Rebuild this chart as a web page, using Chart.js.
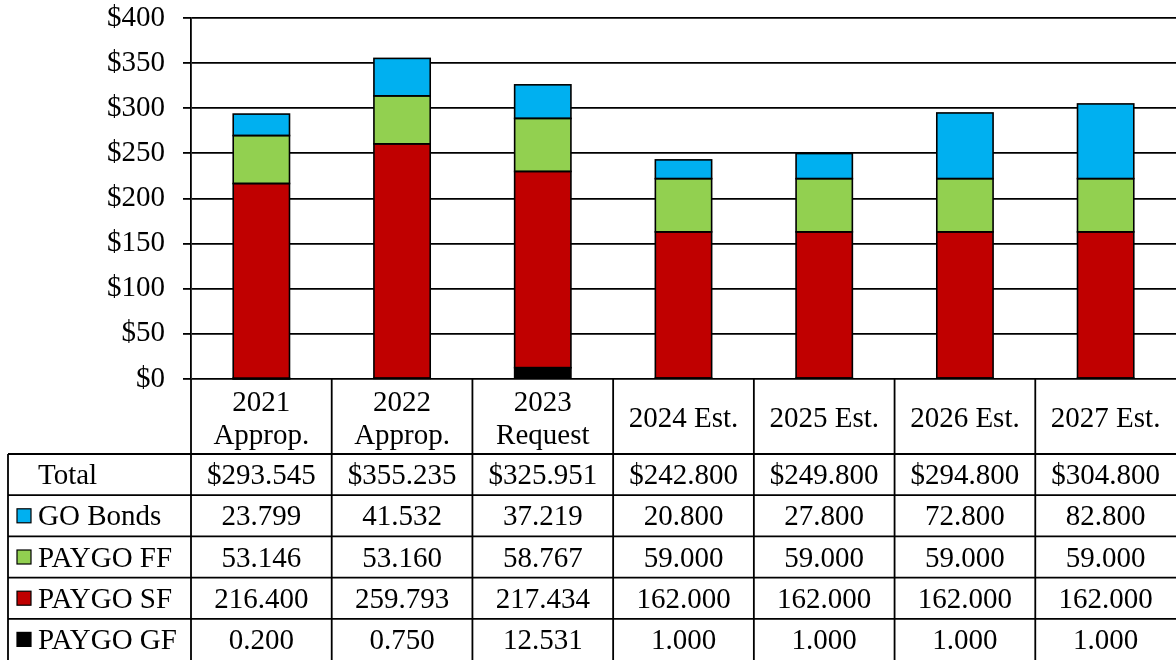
<!DOCTYPE html>
<html>
<head>
<meta charset="utf-8">
<script src="https://cdn.jsdelivr.net/npm/chart.js@4"></script>
<style>
  body { margin: 0; background: #fff; }
  #wrap { width: 1176px; height: 660px; }
</style>
</head>
<body>
<div id="wrap"><canvas id="myChart" width="1176" height="660"></canvas></div>
<script>
const categories = [["2021", "Approp."], ["2022", "Approp."], ["2023", "Request"], "2024 Est.", "2025 Est.", "2026 Est.", "2027 Est."];
const totals = [293.545, 355.235, 325.951, 242.8, 249.8, 294.8, 304.8];
const goBonds = [23.799, 41.532, 37.219, 20.8, 27.8, 72.8, 82.8];
const paygoFF = [53.146, 53.16, 58.767, 59, 59, 59, 59];
const paygoSF = [216.4, 259.793, 217.434, 162, 162, 162, 162];
const paygoGF = [0.2, 0.75, 12.531, 1, 1, 1, 1];
const yTicks = [0, 50, 100, 150, 200, 250, 300, 350, 400];

const FONT = '"Liberation Serif", "Times New Roman", serif';
const FONT_SIZE = 29;

// rows of the data table, top to bottom
const tableRows = [
  { label: "Total", color: null, values: totals, money: true },
  { label: "GO Bonds", color: "#00B0F0", values: goBonds },
  { label: "PAYGO FF", color: "#92D050", values: paygoFF },
  { label: "PAYGO SF", color: "#C00000", values: paygoSF },
  { label: "PAYGO GF", color: "#000000", values: paygoGF },
];

const makeSet = (label, data, color) => ({
  label,
  data,
  backgroundColor: color,
  borderWidth: 0,
  barPercentage: 0.4,
  categoryPercentage: 1,
});

// centered outline round every bar segment (Chart.js insets its borders)
const outlinePlugin = {
  id: "barOutline",
  afterDatasetsDraw(chart) {
    const { ctx } = chart;
    ctx.save();
    ctx.strokeStyle = "#000";
    ctx.lineWidth = 1.6;
    chart.data.datasets.forEach((ds, di) => {
      chart.getDatasetMeta(di).data.forEach((bar) => {
        const { x, y, base, width } = bar.getProps(["x", "y", "base", "width"], true);
        ctx.strokeRect(x - width / 2, Math.min(y, base), width, Math.abs(base - y));
      });
    });
    ctx.restore();
  },
};

const tablePlugin = {
  id: "dataTable",
  afterDraw(chart) {
    const { ctx, chartArea, scales: { x } } = chart;
    const step = x.getPixelForValue(1) - x.getPixelForValue(0);
    const top = chartArea.bottom;
    const headH = 75;
    const rowsTop = top + headH;
    const rowH = (chart.height - rowsTop) / tableRows.length;
    const tableLeft = 8;
    const right = chart.width;

    ctx.save();
    ctx.strokeStyle = "#000";
    ctx.lineWidth = 1.8;
    ctx.fillStyle = "#000";
    ctx.font = `${FONT_SIZE}px ${FONT}`;
    ctx.textBaseline = "middle";

    // column separators
    ctx.beginPath();
    for (let i = 0; i < categories.length; i++) {
      const xl = x.getPixelForValue(i) - step / 2;
      ctx.moveTo(xl, top);
      ctx.lineTo(xl, chart.height);
    }
    ctx.moveTo(tableLeft, rowsTop);
    ctx.lineTo(tableLeft, chart.height);
    for (let r = 0; r < tableRows.length; r++) {
      const yy = rowsTop + r * rowH;
      ctx.moveTo(tableLeft, yy);
      ctx.lineTo(right, yy);
    }
    ctx.stroke();

    // header labels
    ctx.textAlign = "center";
    categories.forEach((cat, i) => {
      const cx = x.getPixelForValue(i);
      const lines = Array.isArray(cat) ? cat : [cat];
      const lh = 33;
      const y0 = top + headH / 2 - (lines.length - 1) * lh / 2 + 3;
      lines.forEach((ln, k) => ctx.fillText(ln, cx, y0 + k * lh));
    });

    // rows
    tableRows.forEach((row, r) => {
      const cy = rowsTop + r * rowH + rowH / 2 + 2;
      ctx.textAlign = "left";
      ctx.fillStyle = "#000";
      ctx.fillText(row.label, 38, cy);
      if (row.color) {
        ctx.fillStyle = row.color;
        ctx.fillRect(17, cy - 9, 14, 14);
        ctx.lineWidth = 1.2;
        ctx.strokeRect(17, cy - 9, 14, 14);
        ctx.lineWidth = 1.8;
      }
      ctx.fillStyle = "#000";
      ctx.textAlign = "center";
      row.values.forEach((v, i) => {
        const txt = (row.money ? "$" : "") + v.toFixed(3);
        ctx.fillText(txt, x.getPixelForValue(i), cy);
      });
    });
    ctx.restore();
  },
};

const canvas = document.getElementById("myChart").getContext("2d");
const myChart = new Chart(canvas, {
  type: "bar",
  data: {
    labels: categories,
    datasets: [
      makeSet("PAYGO GF", paygoGF, "#000000"),
      makeSet("PAYGO SF", paygoSF, "#C00000"),
      makeSet("PAYGO FF", paygoFF, "#92D050"),
      makeSet("GO Bonds", goBonds, "#00B0F0"),
    ],
  },
  options: {
    responsive: false,
    animation: false,
    devicePixelRatio: 1,
    layout: { padding: { top: 18, bottom: 281, left: 0, right: 0 } },
    plugins: { legend: { display: false }, tooltip: { enabled: false } },
    scales: {
      x: { stacked: true, display: false, offset: true },
      y: {
        stacked: true,
        min: yTicks[0],
        max: yTicks[yTicks.length - 1],
        afterFit: (scale) => {
          scale.width = 191;
          scale.paddingTop = 0;
          scale.paddingBottom = 0;
        },
        afterBuildTicks: (scale) => { scale.ticks = yTicks.map((v) => ({ value: v })); },
        ticks: {
          color: "#000",
          padding: 18,
          font: { family: FONT, size: FONT_SIZE },
          callback: (v) => "$" + v,
        },
        grid: { color: "#000", lineWidth: 1.8, tickLength: 8 },
        border: { color: "#000", width: 1.8 },
      },
    },
  },
  plugins: [outlinePlugin, tablePlugin],
});
</script>
</body>
</html>
